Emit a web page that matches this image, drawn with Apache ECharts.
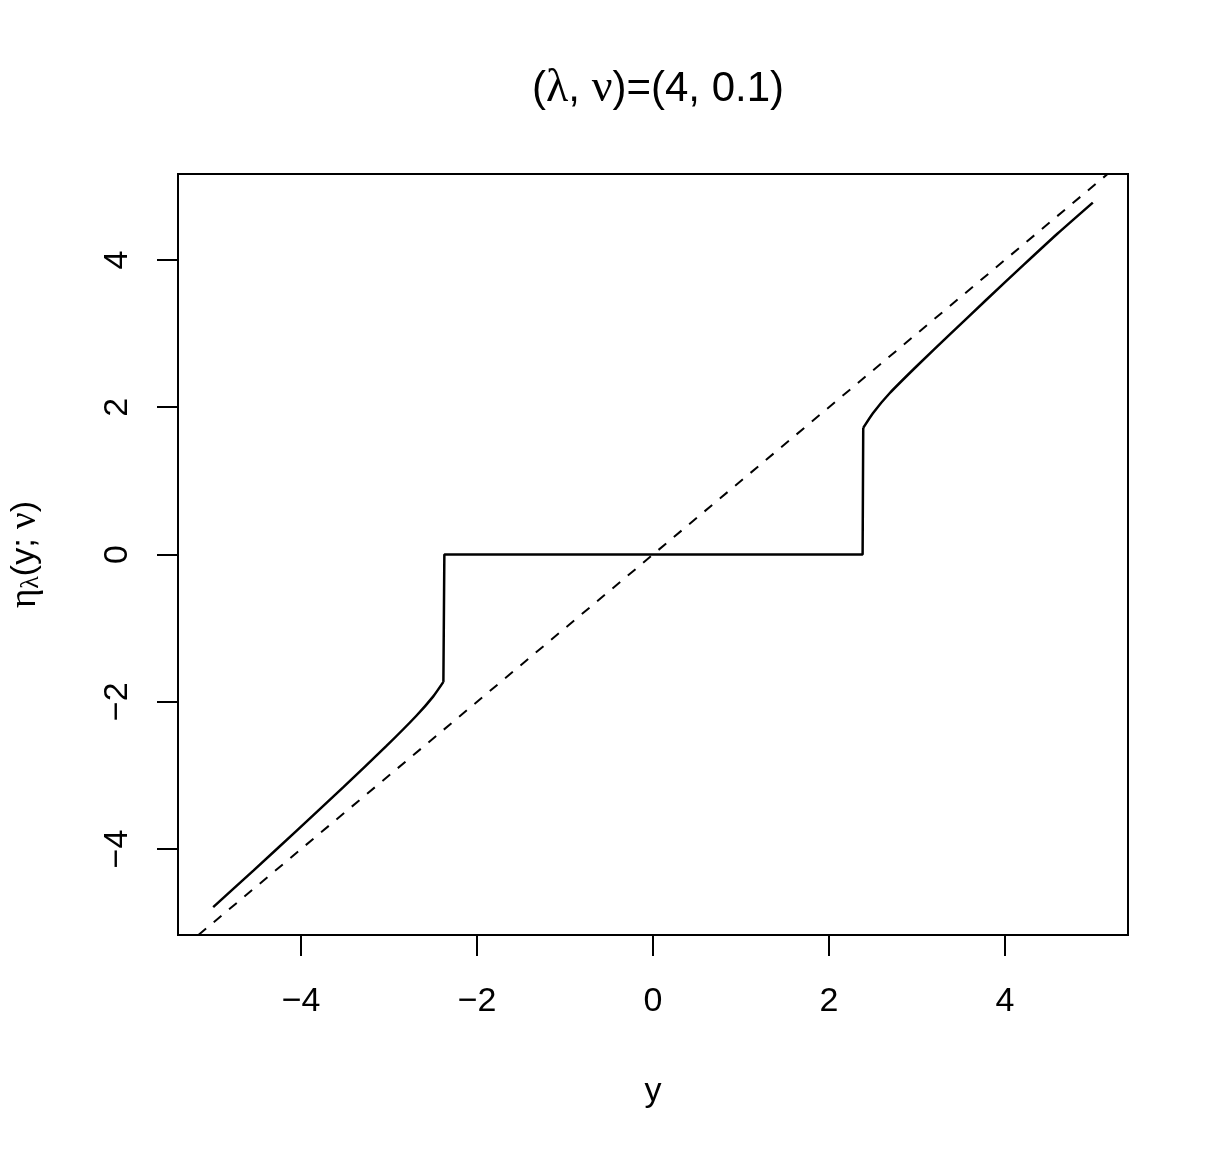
<!DOCTYPE html>
<html>
<head>
<meta charset="utf-8">
<script src="https://cdn.jsdelivr.net/npm/echarts@6/dist/echarts.min.js"></script>
<style>
  html, body { margin: 0; padding: 0; background: #fff; }
  #chart { width: 1218px; height: 1157px; }
</style>
</head>
<body>
<div id="chart"></div>
<script>
// values
var leftX = [-5.0, -4.54, -4.05, -3.52, -3.03, -2.69, -2.50, -2.383];
var leftY = [-4.79, -4.29, -3.75, -3.16, -2.60, -2.19, -1.93, -1.73];
var stepX = [-2.383, -2.372, 2.383, 2.39];
var stepY = [-1.73, 0, 0, 1.72];
var rightX = [2.39, 2.50, 2.69, 3.00, 3.375, 3.79, 4.21, 4.60, 5.0];
var rightY = [1.72, 1.92, 2.19, 2.56, 2.99, 3.46, 3.93, 4.36, 4.78];
var diagX = [-5.168, 5.168];
var diagY = [-5.168, 5.168];
var ticks = [-4, -2, 0, 2, 4];

function pairs(xs, ys) {
  return xs.map(function (x, i) { return [x, ys[i]]; });
}

var chart = echarts.init(document.getElementById('chart'));
var sans = 'Liberation Sans';
var serif = 'Liberation Serif';

function tickText(v) {
  return v < 0 ? '\u2212' + Math.abs(v) : String(v);
}

var option = {
  animation: false,
  backgroundColor: '#fff',
  title: {
    text: '(' + '{g|λ}' + ', ' + '{g|ν}' + ')=(4, 0.1)',
    left: 653,
    top: 61,
    textAlign: 'center',
    textStyle: {
      fontFamily: sans,
      fontSize: 42,
      fontWeight: 'normal',
      color: '#000',
      rich: {
        g: { fontFamily: serif, fontSize: 46, color: '#000' }
      }
    }
  },
  grid: {
    left: 178, right: 90, top: 174, bottom: 222,
    outerBoundsMode: 'none',
    show: true, borderColor: '#000', borderWidth: 2
  },
  xAxis: {
    type: 'value',
    min: -5.4, max: 5.4,
    name: 'y',
    nameLocation: 'middle',
    nameGap: 140,
    nameTextStyle: { fontFamily: sans, fontSize: 34, color: '#000' },
    splitLine: { show: false },
    axisLine: { show: true, onZero: false, lineStyle: { color: '#000', width: 2 } },
    axisTick: { show: true, inside: false, length: 21, customValues: ticks, lineStyle: { color: '#000', width: 2 } },
    axisLabel: {
      customValues: ticks,
      margin: 50,
      fontFamily: sans, fontSize: 34, color: '#000',
      formatter: tickText
    }
  },
  yAxis: {
    type: 'value',
    min: -5.168, max: 5.168,
    name: '{g|η}{s|λ}{n|(y; }{g|ν}{n|)}',
    nameLocation: 'middle',
    nameRotate: 90,
    nameGap: 134,
    nameTextStyle: {
      fontFamily: sans, fontSize: 34, color: '#000',
      rich: {
        g: { fontFamily: serif, fontSize: 37, color: '#000' },
        s: { fontFamily: serif, fontSize: 26, color: '#000', padding: [12, 0, 0, 0] },
        n: { fontFamily: sans, fontSize: 34, color: '#000' }
      }
    },
    splitLine: { show: false },
    axisLine: { show: true, onZero: false, lineStyle: { color: '#000', width: 2 } },
    axisTick: { show: true, inside: false, length: 21, customValues: ticks, lineStyle: { color: '#000', width: 2 } },
    axisLabel: {
      customValues: ticks,
      rotate: 90,
      margin: 43,
      fontFamily: sans, fontSize: 34, color: '#000',
      formatter: tickText
    }
  },
  series: [
    {
      type: 'line', data: pairs(diagX, diagY), showSymbol: false, silent: true,
      lineStyle: { color: '#000', width: 2, type: [10, 10] }
    },
    {
      type: 'line', data: pairs(leftX, leftY), showSymbol: false, smooth: 0.2, silent: true,
      lineStyle: { color: '#000', width: 2.5 }
    },
    {
      type: 'line', data: pairs(stepX, stepY), showSymbol: false, silent: true,
      lineStyle: { color: '#000', width: 2.5 }
    },
    {
      type: 'line', data: pairs(rightX, rightY), showSymbol: false, smooth: 0.2, silent: true,
      lineStyle: { color: '#000', width: 2.5 }
    }
  ]
};

chart.setOption(option);
</script>
</body>
</html>
